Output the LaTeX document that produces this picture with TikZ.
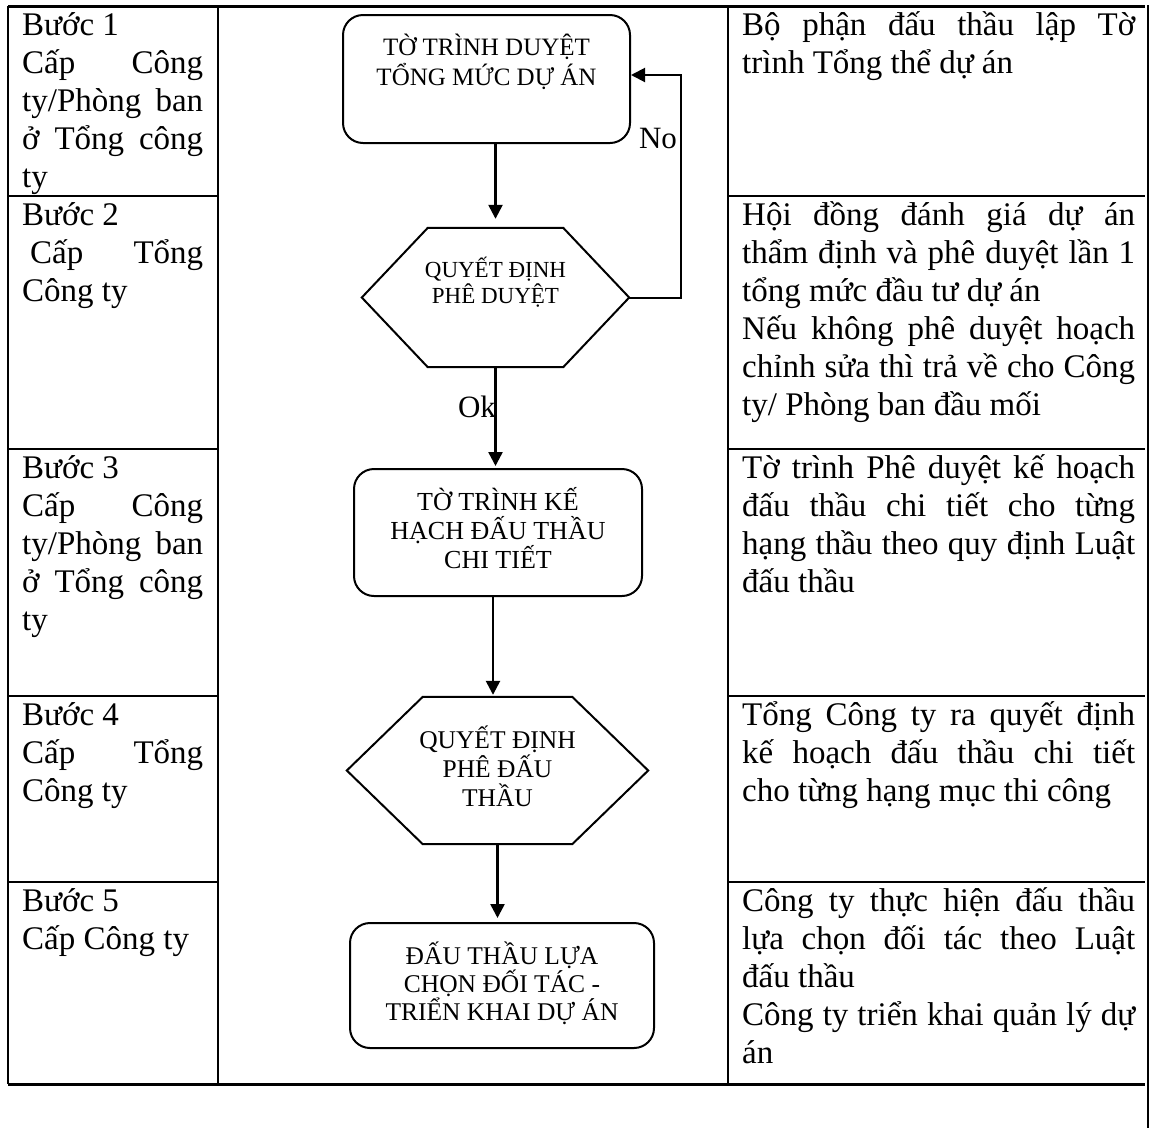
\documentclass[tikz,border=0pt]{standalone}
\usepackage{fontspec}
\setmainfont{Liberation Serif}
\usetikzlibrary{arrows.meta,calc}
\newcommand\jL[1]{\makebox[181pt][s]{#1}}
\newcommand\jR[1]{\makebox[393pt][s]{#1}}
\newcommand\fst{\rule{0pt}{32pt}}
\newcommand\cellfont{\fontsize{33}{38}\selectfont}
\lineskiplimit=-100pt
\begin{document}
\begin{tikzpicture}[x=1pt,y=-1pt,
  tbl/.style={line width=2pt},
  cell/.style={anchor=north west, inner sep=0pt, align=left, font=\cellfont},
  fbox/.style={draw, line width=2pt, rounded corners=20pt, align=center, inner sep=0pt},
  hexnode/.style={inner sep=0pt, align=center},
  shp/.style={line width=2pt, line join=miter},
  arr/.style={line width=2.5pt, -{Triangle[length=14pt,width=14pt]}},
  looparr/.style={line width=2pt, -{Triangle[length=14pt,width=14pt]}},
  lab/.style={inner sep=0pt, font=\fontsize{31}{36}\selectfont}
]
\useasboundingbox (0,0) rectangle (1150,1128);
% ---- table ----
\draw[line width=3pt] (8,6) -- (1145,6);
\draw[line width=3pt] (8,1084) -- (1145,1084);
\draw[tbl] (8,6) -- (8,1084);
\draw[tbl] (218,6) -- (218,1084);
\draw[tbl] (728,6) -- (728,1084);
\draw[line width=1.3pt] (1148,5) -- (1148,1128);
\foreach \y in {196,449,696,882} {
  \draw[tbl] (8,\y) -- (218,\y);
  \draw[tbl] (728,\y) -- (1145,\y);
}
% ---- left cells ----
\node[cell] (l1) at (22,3) {\fst Bước 1\\\jL{Cấp Công}\\\jL{ty/Phòng ban}\\\jL{ở Tổng công}\\ty};
\node[cell] (l2) at (22,193) {\fst Bước 2\\\hspace*{8pt}\makebox[173pt][s]{Cấp Tổng}\\Công ty};
\node[cell] (l3) at (22,446) {\fst Bước 3\\\jL{Cấp Công}\\\jL{ty/Phòng ban}\\\jL{ở Tổng công}\\ty};
\node[cell] (l4) at (22,693) {\fst Bước 4\\\jL{Cấp Tổng}\\Công ty};
\node[cell] (l5) at (22,879) {\fst Bước 5\\Cấp Công ty};
% ---- right cells ----
\node[cell] (r1) at (742,3) {\fst\jR{Bộ phận đấu thầu lập Tờ}\\trình Tổng thể dự án};
\node[cell] (r2) at (742,193) {\fst\jR{Hội đồng đánh giá dự án}\\\jR{thẩm định và phê duyệt lần 1}\\tổng mức đầu tư dự án\\\jR{Nếu không phê duyệt hoạch}\\\jR{chỉnh sửa thì trả về cho Công}\\ty/ Phòng ban đầu mối};
\node[cell] (r3) at (742,446) {\fst\jR{Tờ trình Phê duyệt kế hoạch}\\\jR{đấu thầu chi tiết cho từng}\\\jR{hạng thầu theo quy định Luật}\\đấu thầu};
\node[cell] (r4) at (742,693) {\fst\jR{Tổng Công ty ra quyết định}\\\jR{kế hoạch đấu thầu chi tiết}\\cho từng hạng mục thi công};
\node[cell] (r5) at (742,879) {\fst\jR{Công ty thực hiện đấu thầu}\\\jR{lựa chọn đối tác theo Luật}\\đấu thầu\\\jR{Công ty triển khai quản lý dự}\\án};
% ---- flowchart ----
\node[fbox, minimum width=287pt, minimum height=128pt, font=\fontsize{25}{30}\selectfont] (b1) at (486.5,79)
  {\strut TỜ TRÌNH DUYỆT\\\strut TỔNG MỨC DỰ ÁN\\\strut};
\node[hexnode, minimum width=267pt, minimum height=139pt, font=\fontsize{23}{26}\selectfont] (h1) at (495.5,297.5)
  {\strut QUYẾT ĐỊNH\\\strut PHÊ DUYỆT\\\strut};
\draw[shp] (h1.west) -- ([xshift=66pt]h1.north west) -- ([xshift=-66pt]h1.north east) -- (h1.east)
  -- ([xshift=-66pt]h1.south east) -- ([xshift=66pt]h1.south west) -- cycle;
\node[fbox, minimum width=288pt, minimum height=127pt, font=\fontsize{26}{29}\selectfont] (b2) at (498,532.5)
  {\strut TỜ TRÌNH KẾ\\\strut HẠCH ĐẤU THẦU\\\strut CHI TIẾT};
\node[hexnode, minimum width=301pt, minimum height=147pt, font=\fontsize{25.5}{29}\selectfont] (h2) at (497.5,770.5)
  {\strut QUYẾT ĐỊNH\\\strut PHÊ ĐẤU\\\strut THẦU};
\draw[shp] (h2.west) -- ([xshift=76pt]h2.north west) -- ([xshift=-76pt]h2.north east) -- (h2.east)
  -- ([xshift=-76pt]h2.south east) -- ([xshift=76pt]h2.south west) -- cycle;
\node[fbox, minimum width=304pt, minimum height=125pt, font=\fontsize{25.5}{28}\selectfont] (b3) at (502,985.5)
  {\strut ĐẤU THẦU LỰA\\\strut CHỌN ĐỐI TÁC -\\\strut TRIỂN KHAI DỰ ÁN};
% connectors
\draw[arr, shorten >=9pt] (b1.south -| h1.north) -- (h1.north);
\draw[arr, shorten >=2pt] (h1.south) -- (h1.south |- b2.north);
\draw[arr, shorten >=2pt] ([xshift=-5pt]b2.south) -- ([xshift=-5pt]b2.south |- h2.north);
\draw[arr, shorten >=4pt] (h2.south) -- (h2.south |- b3.north);
\coordinate (lp) at (681,75);
\draw[looparr] (h1.east) -| (lp) -- (lp -| b1.east);
% labels
\node[lab] (no) at (658,138) {No};
\node[lab] (ok) at (477,407) {Ok};
\end{tikzpicture}
\end{document}
